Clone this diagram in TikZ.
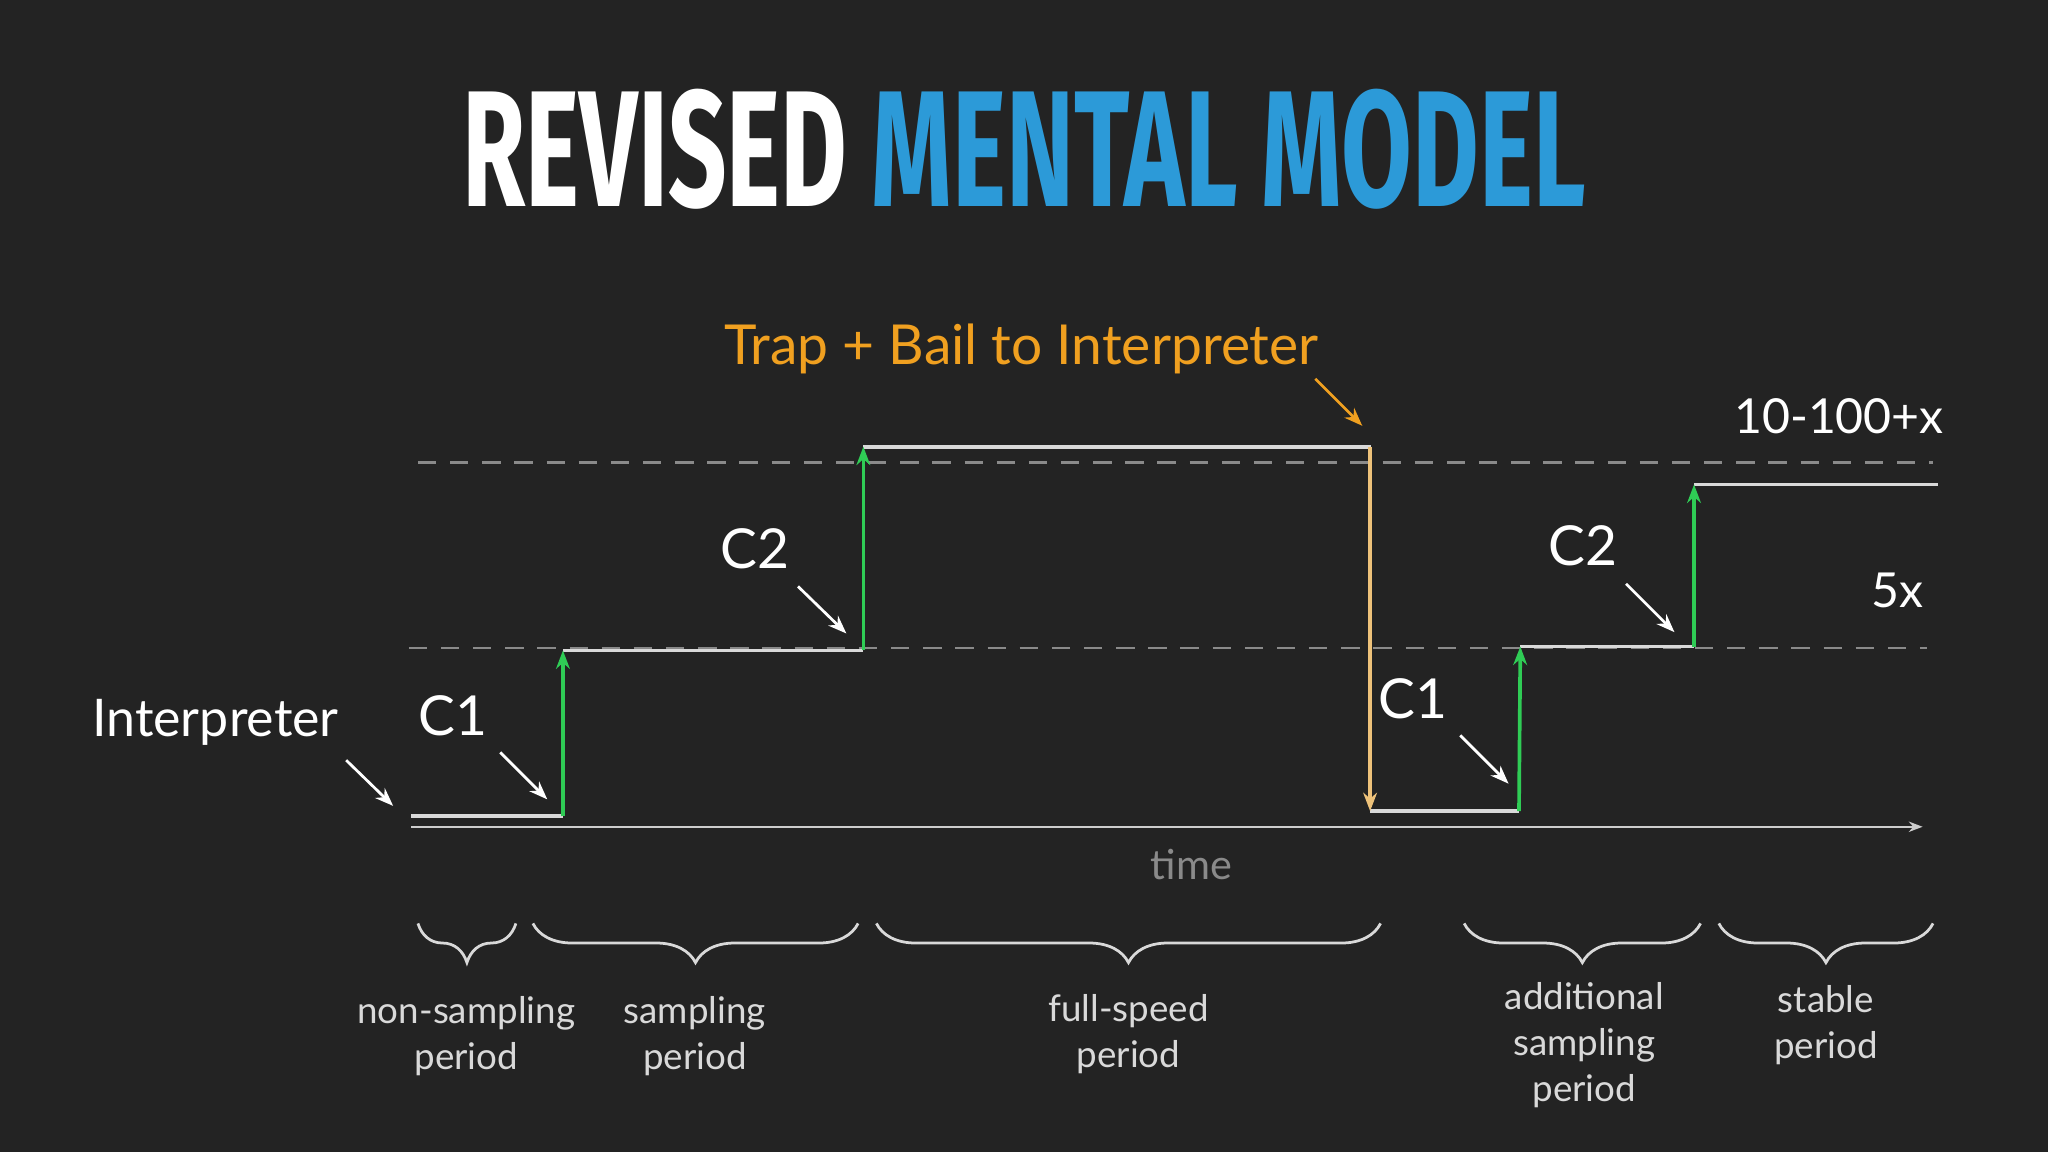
\documentclass[tikz,border=0pt]{standalone}
\usepackage{fontspec}
\setmainfont{Lato}
\newfontfamily\titlefont{Fira Sans}
\usetikzlibrary{arrows.meta,decorations.pathreplacing}
\definecolor{bg}{HTML}{232323}
\definecolor{tblue}{HTML}{2C9AD8}
\definecolor{torange}{HTML}{F0A020}
\definecolor{tgreen}{HTML}{2FCC55}
\definecolor{tyellow}{HTML}{EEC27A}
\definecolor{tgray}{HTML}{8A8A8A}
\begin{document}
\begin{tikzpicture}[x=0.01cm,y=-0.01cm,
  lbl/.style={text=white,font=\fontsize{12}{14}\selectfont},
  per/.style={text=white!85!black,font=\fontsize{8}{10}\selectfont,align=center},
  ptr/.style={white,line width=0.6pt,-{Stealth[length=4pt]}},
  lvl/.style={white!85!black,line width=0.8pt},
  up/.style={tgreen,line width=0.8pt,-{Stealth[length=4pt]}},
  guide/.style={tgray,dash pattern=on 4pt off 3pt,line width=0.5pt},
  br/.style={white!85!black,line width=0.6pt,decorate,decoration={brace,mirror,amplitude=0.3cm}}]
\fill[bg] (0,0) rectangle (1568,882);
\useasboundingbox (0,0) rectangle (1568,882);
% title
\node (title) at (784,114) {\scalebox{0.62}[1]{\titlefont\bfseries\fontsize{36}{40}\selectfont
  \textcolor{white}{REVISED} \textcolor{tblue}{MENTAL MODEL}}};
% guides
\draw[guide] (320,354) -- (1480,354);
\draw[guide] (313,496) -- (1475,496);
\coordinate (t0) at (315,633); \coordinate (t1) at (1472,633);
\draw[white!80!black,line width=0.5pt,-{Stealth[length=3pt]}] (t0) -- (t1);
\node[text=tgray,font=\fontsize{9}{11}\selectfont] (time) at (912,662) {time};
% steps
\coordinate (a0) at (315,625); \coordinate (a1) at (431,625);
\coordinate (b0) at (431,498); \coordinate (b1) at (661,498);
\coordinate (c0) at (661,342); \coordinate (c1) at (1050,342);
\coordinate (d0) at (1049,621); \coordinate (d1) at (1163,621);
\coordinate (e0) at (1164,495); \coordinate (e1) at (1297,495);
\coordinate (f0) at (1297,371); \coordinate (f1) at (1484,371);
\draw[lvl] (a0) -- (a1); \draw[lvl] (b0) -- (b1); \draw[lvl] (c0) -- (c1);
\draw[lvl] (d0) -- (d1); \draw[lvl] (e0) -- (e1); \draw[lvl] (f0) -- (f1);
\draw[up] (a1) -- (b0);
\draw[up] (b1) -- (c0);
\draw[tyellow,line width=0.8pt,-{Stealth[length=4pt]}] (1049,342) -- (d0);
\draw[up] (d1) -- (e0);
\draw[up] (e1) -- (f0);
% labels
\node[lbl,font=\fontsize{11.3}{14}\selectfont] (interp) at (165,553) {Interpreter};
\node[lbl] (c1a) at (347,548) {C1};
\node[lbl] (c2a) at (578,420) {C2};
\node[lbl] (c1b) at (1082,535) {C1};
\node[lbl] (c2b) at (1212,418) {C2};
\node[text=torange,font=\fontsize{12}{15}\selectfont] (trap) at (782,267) {Trap + Bail to Interpreter};
\node[lbl,font=\fontsize{10.5}{13}\selectfont] (hi) at (1408,319) {10-100+x};
\node[lbl,font=\fontsize{10.5}{13}\selectfont] (mid) at (1453,452) {5x};
\coordinate (p1) at (301,617); \coordinate (p2) at (419,612); \coordinate (p3) at (648,485);
\coordinate (p4) at (1155,600); \coordinate (p5) at (1282,484);
\draw[ptr] (265,582) -- (p1);
\draw[ptr] (383,576) -- (p2);
\draw[ptr] (611,449) -- (p3);
\draw[ptr] (1118,563) -- (p4);
\draw[ptr] (1245,447) -- (p5);
\draw[torange,line width=0.6pt,-{Stealth[length=4pt]}] (1007,290) -- (1043,326);
% braces
\draw[br] (320,707) -- (395,707);
\draw[br] (408,707) -- (657,707);
\draw[br] (671,707) -- (1057,707);
\draw[br] (1121,707) -- (1302,707);
\draw[br] (1316,707) -- (1480,707);
\node[per] (n1) at (357,793) {non-sampling\\period};
\node[per] (n2) at (532,793) {sampling\\period};
\node[per] (n3) at (864,792) {full-speed\\period};
\node[per] (n4) at (1213,800) {additional\\sampling\\period};
\node[per] (n5) at (1398,785) {stable\\period};
\end{tikzpicture}
\end{document}
